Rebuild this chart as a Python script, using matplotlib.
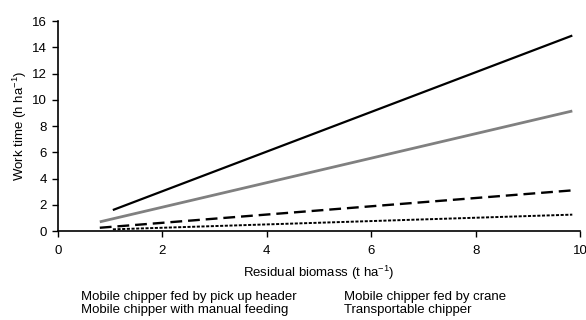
import matplotlib
matplotlib.use('Agg')
import matplotlib.pyplot as plt

plt.rcParams.update({
    'font.family': 'Liberation Sans', 'font.size': 9.5,
    'mathtext.fontset': 'custom', 'mathtext.rm': 'Liberation Sans',
    'mathtext.it': 'Liberation Sans', 'mathtext.default': 'regular',
})

# ── Data (line end points) ───────────────────────────────────────────
labels = ["Mobile chipper fed by pick up header",
          "Mobile chipper with manual feeding",
          "Mobile chipper fed by crane",
          "Transportable chipper"]
x_manual = [1.05, 9.85]
y_manual = [1.6, 14.9]
x_pickup = [0.8, 9.85]
y_pickup = [0.7, 9.15]
x_crane = [0.8, 9.85]
y_crane = [0.25, 3.1]
x_trans = [1.05, 9.85]
y_trans = [0.13, 1.25]

fig = plt.figure(figsize=(5.86, 3.2), dpi=100)
ax = fig.add_axes([0.099, 0.278, 0.891, 0.656])

l_pick, = ax.plot(x_pickup, y_pickup, color='#808080', lw=2.0, solid_capstyle='butt')
l_man, = ax.plot(x_manual, y_manual, color='black', lw=1.6, solid_capstyle='butt')
l_crane, = ax.plot(x_crane, y_crane, color='black', lw=1.7, ls=(0, (5, 2.5)))
l_trans, = ax.plot(x_trans, y_trans, color='black', lw=1.4, ls=(0, (1.6, 0.8)))

ax.set_xlim(0, 10)
ax.set_ylim(0, 16)
ax.set_xticks(range(0, 11, 2))
ax.set_yticks(range(0, 17, 2))
ax.spines['top'].set_visible(False)
ax.spines['right'].set_visible(False)
ax.tick_params(direction='out', length=4, width=1, pad=4)
ax.tick_params(axis='x', pad=6)
for s in ('left', 'bottom'):
    ax.spines[s].set_linewidth(1.2)

ax.set_xlabel(r'Residual biomass (t ha$^{-1}$)', labelpad=5)
ax.set_ylabel(r'Work time (h ha$^{-1}$)', labelpad=2)

leg = fig.legend([l_pick, l_man, l_crane, l_trans], labels, ncol=2,
                 loc='lower left', bbox_to_anchor=(0.134, 0.004),
                 frameon=False, handlelength=0, handletextpad=0,
                 columnspacing=3.6, labelspacing=0.1, borderaxespad=0.0,
                 borderpad=0.2)
for h in leg.legend_handles:
    h.set_visible(False)

fig.savefig('out.png', dpi=100)
